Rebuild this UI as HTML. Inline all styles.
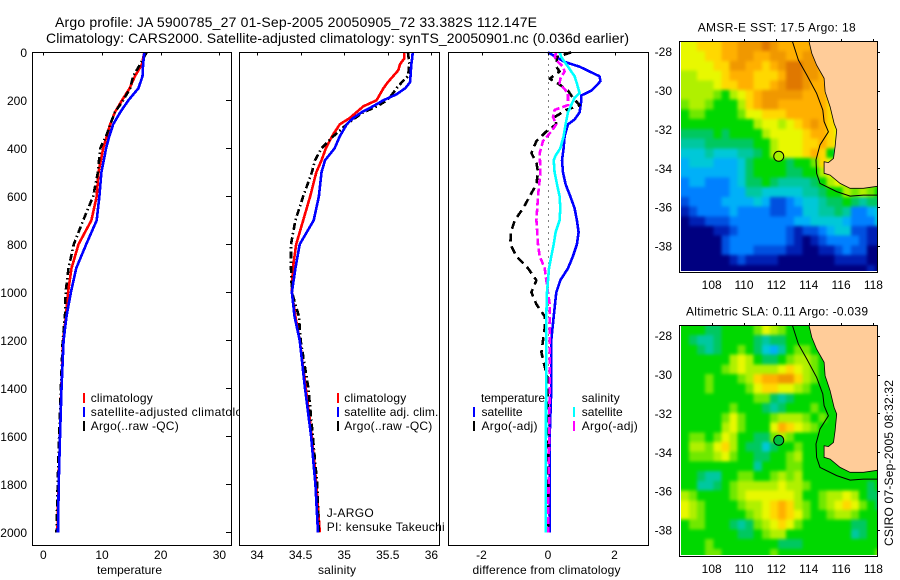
<!DOCTYPE html>
<html>
<head>
<meta charset="utf-8">
<title>Argo profile</title>
<style>
html,body{margin:0;padding:0;background:#fff;}
svg{display:block;font-family:"Liberation Sans",sans-serif;}
text{fill:#000;}
</style>
</head>
<body>
<svg id="figure" xmlns="http://www.w3.org/2000/svg" width="900" height="580" viewBox="0 0 900 580">
<rect x="0" y="0" width="900" height="580" fill="#fff"/>
<g id="panels"></g>
<g id="maps"></g>
<text x="55" y="27" font-size="14" textLength="482" lengthAdjust="spacing">Argo profile: JA 5900785_27 01-Sep-2005 20050905_72 33.382S 112.147E</text>
<text x="46" y="43" font-size="14" textLength="583" lengthAdjust="spacing">Climatology: CARS2000. Satellite-adjusted climatology: synTS_20050901.nc (0.036d earlier)</text>
<text transform="translate(893,546) rotate(-90)" font-size="12" textLength="166" lengthAdjust="spacing">CSIRO 07-Sep-2005 08:32:32</text>
</svg>
<script>
// ---- depth ticks and axis ticks
var depthTicks = [0,200,400,600,800,1000,1200,1400,1600,1800,2000];
var tempTicks = [0,10,20,30];
var salTicks = [34,34.5,35,35.5,36];
var salTickLabels = ['34','34.5','35','35.5','36'];
var diffTicks = [-2,0,2];
var lonTicks = [108,110,112,114,116,118];
var latTicks = [28,30,32,34,36,38];

// ---- temperature panel
var tempDepths = [0,50,100,150,200,250,300,350,400,500,600,700,800,900,1000,1100,1200,1400,1600,1800,2000];
var tempClim = [17.2,16.8,15.6,14.7,13.4,12.2,11.4,10.8,10.2,9.4,9.1,8.2,6.0,4.8,4.2,3.85,3.4,3.07,2.84,2.6,2.4];
var tempSat = [17.2,17.0,16.9,16.2,14.5,13.1,11.9,11.25,10.7,9.9,9.55,9.1,7.3,5.6,4.7,3.95,3.45,3.1,2.85,2.62,2.5];
var tempArgo = [17.6,16.5,15.3,14.8,13.6,12.2,11.4,10.7,9.7,9.3,8.5,6.8,5.2,4.3,3.8,3.7,3.3,3.0,2.7,2.45,2.25];

// ---- salinity panel
var salDepths = [0,25,50,75,100,125,150,175,200,225,250,275,300,350,400,450,500,600,700,800,900,1000,1100,1200,1400,1600,1800,2000];
var salClim = [35.69,35.69,35.64,35.62,35.56,35.5,35.45,35.41,35.37,35.22,35.14,35.06,34.95,34.86,34.79,34.74,34.68,34.61,34.53,34.45,34.41,34.4,34.44,34.49,34.56,34.63,34.68,34.72];
var salSat = [35.785,35.78,35.77,35.765,35.76,35.755,35.7,35.6,35.45,35.33,35.2,35.1,35.03,34.95,34.89,34.78,34.74,34.71,34.65,34.49,34.44,34.4,34.43,34.49,34.55,34.62,34.67,34.7];
var salArgo = [35.73,35.74,35.745,35.74,35.73,35.66,35.6,35.55,35.49,35.38,35.22,35.12,35.03,34.875,34.74,34.665,34.63,34.53,34.44,34.39,34.39,34.4,34.48,34.5,34.59,34.64,34.69,34.71];

// ---- difference panel
var diffTempSatDepths = [0,20,40,60,80,100,120,140,160,180,200,250,280,300,350,400,450,500,550,600,650,700,750,800,850,900,950,1000,1100,1200,1400,1600,2000];
var diffTempSat = [0,0.25,0.5,0.95,1.25,1.55,1.58,1.45,1.3,1.0,1.0,0.95,0.8,0.6,0.5,0.47,0.42,0.45,0.53,0.67,0.8,0.87,0.92,0.87,0.75,0.6,0.37,0.25,0.17,0.1,0.1,0.05,0.05];
var diffSalSatDepths = [0,20,40,60,80,100,130,170,190,210,250,300,350,400,430,450,500,550,600,650,700,750,800,850,900,1000,1100,2000];
var diffSalSat = [0.35,0.4,0.5,0.6,0.7,0.8,0.87,0.95,0.8,0.73,0.6,0.53,0.47,0.37,0.23,0.17,0.2,0.27,0.35,0.37,0.35,0.23,0.17,0.1,0.03,-0.03,-0.05,-0.07];
var diffTempArgoDepths = [0,20,40,60,80,110,130,160,190,220,240,270,300,330,370,420,460,500,550,600,650,700,750,800,850,900,950,1000,1050,1100,1150,1250,1350,1500,2000];
var diffTempArgo = [0.7,0.25,0.27,0.25,0.35,0.05,0.3,0.6,0.75,0.95,0.55,0.2,0.25,-0.05,-0.35,-0.5,-0.35,-0.3,-0.35,-0.55,-0.75,-1.0,-1.12,-1.13,-0.95,-0.6,-0.35,-0.5,-0.35,-0.1,-0.1,-0.2,-0.03,0,0];
var diffSalArgoDepths = [0,20,40,60,80,110,130,170,190,220,240,270,300,330,370,420,500,600,700,800,850,900,1000,1050,1200,1400,2000];
var diffSalArgo = [0.25,0.2,0.3,0.45,0.5,0.37,0.35,0.6,0.6,0.6,0.2,0.15,0.25,0.1,-0.15,-0.25,-0.23,-0.3,-0.35,-0.3,-0.25,-0.1,0,0.05,0.05,0.05,0];

// ---- map data (0.5 degree colour-level grids)
var sstRows = [
"bbcccddeeefeddddedddddddd","bbbccddeeddeeddeedddddddd","bbbbcceeddcdeffeedddddddd","aabbbcdddcccdffeeddcccccc",
"aaaabccddccdeffedddcccccc","aaaa98abcdeeeeedddcbbbbbb","9aa9888acdeeddddddcbbbbbb","89988889bbcccdddddcaaaaaa",
"888888888abbabcdedcbaaaaa","7777878888abbbbcddcbaaaaa","66677777788abbbccdcb99999","55565556678abbbcdc8655555",
"45554445788887889cb666666","44444445788887788aba99999","344333457787666678aba9999","33333344665555566788a9a98",
"2333344445422345567787677","1233334333322335566763345","0112223333333344555543335","0000112333333212234552211",
"0000023333333210123333211","0000023332222110011232200","0000001211110000000111100","0000000000000000000000010"
];
var slaRows = [
"8887788889ba9888888888888","8766788887677888888888888","8876788987546899888888888","888888aba87789aa988888888",
"888889abaaaabcba988888888","88898889acddeeca988888888","888988889bccbba9888888888","8888888889976788888888888",
"8888889888767888988888888","888889b98889aaa9898888888","88888ab9888bdcba988888888","89989ba88779a988888888888",
"8aa9bca877578898888888888","8999ab98877889a8888888888","8888888886888998888888888","887668899889a9a8888888888",
"8866789aaaaabaa9888888878","a988889abbbbbba889aaba877","ba988889aabcdca989abcb987","ba9888889abcdcb9889aa9888",
"8998887679abcb98888887788","88888887789aa888888886788","8889888888887778888888888","8889988888898888888888889"
];
var levelColors = ['#000080','#0020b4','#0050e0','#0080ff','#00b0f8','#00c8d8','#00c8a0','#00c860','#00d800','#70e800','#b0f000','#e8f800','#ffd800','#ffb000','#f09800','#e07800'];
var coastLon = [114.02,114.19,114.49,114.95,115.01,115.32,115.57,115.73,115.63,115.53,115.22,114.95,114.95,115.32,115.94,116.56,117.38,118.24];
var coastLat = [27.47,28.09,28.69,29.37,30.06,30.83,31.69,32.03,32.89,33.49,33.71,33.66,34.26,34.35,34.78,35.03,35.03,34.93];
var isobathLon = [112.99,113.36,113.88,114.49,114.87,114.95,115.22,114.7,114.45,114.49,114.7,115.73,116.56,117.38,118.24];
var isobathLat = [27.47,28.43,29.2,30.14,31.0,31.6,32.12,32.8,33.57,34.26,34.78,35.2,35.43,35.38,35.38];
var argoLon = 112.147;
var argoLat = 33.382;

// ---- axis functions
function yDepth(d){ return 52.3 + d * 0.24; }
function xTemp(v){ return 43.3 + v * 5.87; }
function xSal(v){ return 257 + (v - 34) * 87.2; }
function xDiff(v){ return 548 + v * 33.25; }
function xLon(v){ return 711.7 + (v - 108) * 16.17; }
function yLatTop(v){ return 51.7 + (v - 28) * 19.43; }
function yLatBot(v){ return 335.7 + (v - 28) * 19.43; }

var SVGNS = 'http://www.w3.org/2000/svg';
function make(tag, attrs, parent){
  var e = document.createElementNS(SVGNS, tag);
  for (var k in attrs) e.setAttribute(k, attrs[k]);
  parent.appendChild(e);
  return e;
}
function lineSeries(parent, xs, ds, xf, color, width, dash, name){
  var pts = [];
  for (var i = 0; i < xs.length; i++) pts.push(xf(xs[i]).toFixed(1) + ',' + yDepth(ds[i]).toFixed(1));
  var a = {points: pts.join(' '), fill: 'none', stroke: color, 'stroke-width': width, 'stroke-linejoin': 'round', 'shape-rendering': 'crispEdges'};
  if (dash) a['stroke-dasharray'] = dash;
  var p = make('polyline', a, parent);
  
  
}
function label(parent, x, y, s, size, anchor, len, name){
  var a = {x: x, y: y, 'font-size': size};
  if (anchor) a['text-anchor'] = anchor;
  if (len) { a.textLength = len; a.lengthAdjust = 'spacing'; }
  var t = make('text', a, parent);
  t.textContent = s;
  
  
  return t;
}
function legendBar(parent, x, y, color, name){
  var r = make('rect', {x: x, y: y - 5, width: 2, height: 10, fill: color}, parent);
  
  
}
function tick(parent, x1, y1, x2, y2, name){
  var l = make('line', {x1: x1, y1: y1, x2: x2, y2: y2, stroke: '#000', 'stroke-width': 1, 'shape-rendering': 'crispEdges'}, parent);
  
  
}
function panelBox(parent, x, y, w, h, name){
  var r = make('rect', {x: x, y: y, width: w, height: h, fill: '#fff', stroke: 'none'}, parent);
  
  
}
function panelFrame(parent, x, y, w, h, name){
  var r = make('rect', {x: x, y: y, width: w, height: h, fill: 'none', stroke: '#000', 'stroke-width': 1, 'shape-rendering': 'crispEdges'}, parent);
  
  
}

var panels = document.getElementById('panels');
var TOP = 52.5, BOT = 545.5, i;
var LW = 2.6;

// ---- temperature panel
var g1 = make('g', {}, panels);


panelBox(g1, 32.5, TOP, 199, BOT - TOP, 'temperature-panel');
lineSeries(g1, tempClim, tempDepths, xTemp, '#ff0000', LW, null, 'temperature-climatology-line');
lineSeries(g1, tempArgo, tempDepths, xTemp, '#000', LW, '7 3 1.5 3', 'temperature-argo-line');
lineSeries(g1, tempSat, tempDepths, xTemp, '#0000ff', LW, null, 'temperature-satellite-line');
panelFrame(g1, 32.5, TOP, 199, BOT - TOP, 'temperature-panel');
for (i = 0; i < depthTicks.length; i++) {
  tick(g1, 226, Math.round(yDepth(depthTicks[i])) + 0.5, 231, Math.round(yDepth(depthTicks[i])) + 0.5, 'depth-tick');
  label(g1, 27, yDepth(depthTicks[i]) + 4.5, String(depthTicks[i]), 12, 'end', null, 'depth-tick-label');
}
for (i = 0; i < tempTicks.length; i++) {
  tick(g1, Math.round(xTemp(tempTicks[i])) + 0.5, TOP, Math.round(xTemp(tempTicks[i])) + 0.5, TOP + 3, 'temperature-tick');
  label(g1, xTemp(tempTicks[i]), 559, String(tempTicks[i]), 12, 'middle', null, 'temperature-tick-label');
}
label(g1, 97, 574, 'temperature', 12, null, 65, 'temperature-axis-title');
legendBar(g1, 83, 398, '#ff0000', 'legend-climatology-swatch');
legendBar(g1, 83, 412, '#0000ff', 'legend-satellite-swatch');
legendBar(g1, 83, 426, '#000', 'legend-argo-swatch');
label(g1, 90.7, 402, 'climatology', 12, null, 62, 'legend-climatology');
label(g1, 90.7, 416, 'satellite-adjusted climatology', 12, null, 165, 'legend-satellite-adjusted');
label(g1, 90.7, 430, 'Argo(..raw -QC)', 12, null, 88, 'legend-argo');

// ---- salinity panel
var g2 = make('g', {}, panels);


panelBox(g2, 239, TOP, 201, BOT - TOP, 'salinity-panel');
lineSeries(g2, salClim, salDepths, xSal, '#ff0000', LW, null, 'salinity-climatology-line');
lineSeries(g2, salArgo, salDepths, xSal, '#000', LW, '7 3 1.5 3', 'salinity-argo-line');
lineSeries(g2, salSat, salDepths, xSal, '#0000ff', LW, null, 'salinity-satellite-line');
panelFrame(g2, 239.5, TOP, 200, BOT - TOP, 'salinity-panel');
for (i = 0; i < salTicks.length; i++) {
  tick(g2, Math.round(xSal(salTicks[i])) + 0.5, TOP, Math.round(xSal(salTicks[i])) + 0.5, TOP + 3, 'salinity-tick');
  label(g2, xSal(salTicks[i]), 559, salTickLabels[i], 12, 'middle', null, 'salinity-tick-label');
}
label(g2, 318, 574, 'salinity', 12, null, 38, 'salinity-axis-title');
legendBar(g2, 337, 398, '#ff0000', 'legend-climatology-swatch');
legendBar(g2, 337, 412, '#0000ff', 'legend-satellite-swatch');
legendBar(g2, 337, 426, '#000', 'legend-argo-swatch');
label(g2, 344.3, 402, 'climatology', 12, null, 62, 'legend-climatology');
label(g2, 344.3, 416, 'satellite adj. clim.', 12, null, 94, 'legend-satellite-adj');
label(g2, 344.3, 430, 'Argo(..raw -QC)', 12, null, 88, 'legend-argo');
label(g2, 326.7, 517, 'J-ARGO', 12, null, 47, 'program-label');
label(g2, 326.7, 531, 'PI: kensuke Takeuchi', 12, null, 118, 'pi-label');

// ---- difference panel
var g3 = make('g', {}, panels);


var zero = make('line', {x1: 548.5, y1: TOP, x2: 548.5, y2: yDepth(2000), stroke: '#000', 'stroke-width': 1, 'stroke-dasharray': '1 5', 'shape-rendering': 'crispEdges'}, g3);


lineSeries(g3, diffTempSat, diffTempSatDepths, xDiff, '#0000ff', LW, null, 'difference-temperature-satellite-line');
lineSeries(g3, diffTempArgo, diffTempArgoDepths, xDiff, '#000', LW, '8 5', 'difference-temperature-argo-line');
lineSeries(g3, diffSalArgo, diffSalArgoDepths, xDiff, '#ff00ff', LW, '7 3', 'difference-salinity-argo-line');
lineSeries(g3, diffSalSat, diffSalSatDepths, xDiff, '#00ffff', LW, null, 'difference-salinity-satellite-line');
panelFrame(g3, 448.5, TOP, 200, BOT - TOP, 'difference-panel');
for (i = 0; i < diffTicks.length; i++) {
  tick(g3, Math.round(xDiff(diffTicks[i])) + 0.5, TOP, Math.round(xDiff(diffTicks[i])) + 0.5, TOP + 3, 'difference-tick');
  label(g3, xDiff(diffTicks[i]), 559, String(diffTicks[i]), 12, 'middle', null, 'difference-tick-label');
}
label(g3, 472.5, 574, 'difference from climatology', 12, null, 148, 'difference-axis-title');
label(g3, 481, 402, 'temperature', 12, null, 64, 'legend-temperature-heading');
legendBar(g3, 473, 412, '#0000ff', 'legend-temperature-satellite-swatch');
legendBar(g3, 473, 426, '#000', 'legend-temperature-argo-swatch');
label(g3, 481.5, 416, 'satellite', 12, null, 41, 'legend-temperature-satellite');
label(g3, 481.5, 430, 'Argo(-adj)', 12, null, 56, 'legend-temperature-argo');
label(g3, 581.7, 402, 'salinity', 12, null, 38, 'legend-salinity-heading');
legendBar(g3, 573, 412, '#00ffff', 'legend-salinity-satellite-swatch');
legendBar(g3, 573, 426, '#ff00ff', 'legend-salinity-argo-swatch');
label(g3, 581.7, 416, 'satellite', 12, null, 41, 'legend-salinity-satellite');
label(g3, 581.7, 430, 'Argo(-adj)', 12, null, 56, 'legend-salinity-argo');

// ---- map panels
function drawMap(rows, yLat, frameTop, frameBot, clipId, titleText, titleX, titleLen, titleY, xLabelY, markerColor, prefix){
  var maps = document.getElementById('maps');
  var g = make('g', {}, maps);
  
  
  var left = 679.5, right = 877.5;
  var clip = make('clipPath', {id: clipId}, g);
  make('rect', {x: left + 1.5, y: frameTop, width: right - left - 1.5, height: frameBot - frameTop - 1.5}, clip);
  var blur = make('filter', {id: clipId + 'Blur', x: '-10%', y: '-10%', width: '120%', height: '120%', 'color-interpolation-filters': 'sRGB'}, g);
  make('feGaussianBlur', {stdDeviation: 1.7}, blur);
  var inner = make('g', {'clip-path': 'url(#' + clipId + ')'}, g);
  var cells = make('g', {filter: 'url(#' + clipId + 'Blur)'}, inner);
  var r, c;
  for (r = 0; r < rows.length; r++) {
    var row = rows[r];
    for (c = 0; c < row.length; c++) {
      var lvl = parseInt(row.charAt(c), 16);
      var lon0 = 106.1 + c * 0.5, lat0 = 27.47 + r * 0.5;
      var x0 = xLon(lon0), y0 = yLat(lat0);
      var w = xLon(lon0 + 0.5) - x0 + 0.5, h = yLat(lat0 + 0.5) - y0 + 0.5;
      // outermost cells run past the frame so the smoothing does not fade at the edges
      if (c === 0) { x0 -= 12; w += 12; }
      if (c === row.length - 1) { w += 12; }
      if (r === 0) { y0 -= 12; h += 12; }
      if (r === rows.length - 1) { h += 12; }
      var cell = make('rect', {x: x0.toFixed(1), y: y0.toFixed(1), width: w.toFixed(1), height: h.toFixed(1), fill: levelColors[lvl], 'shape-rendering': 'crispEdges'}, cells);
      
      
    }
  }
  var pts = [], k;
  for (k = 0; k < coastLon.length; k++) pts.push(xLon(coastLon[k]).toFixed(1) + ',' + yLat(coastLat[k]).toFixed(1));
  var landPts = pts.concat([right + ',' + yLat(coastLat[coastLat.length - 1]).toFixed(1), right + ',' + frameTop]);
  var land = make('polygon', {points: landPts.join(' '), fill: '#ffcc99', stroke: 'none'}, inner);
  
  
  var coast = make('polyline', {points: pts.join(' '), fill: 'none', stroke: '#000', 'stroke-width': 0.8}, inner);
  
  
  var iso = [];
  for (k = 0; k < isobathLon.length; k++) iso.push(xLon(isobathLon[k]).toFixed(1) + ',' + yLat(isobathLat[k]).toFixed(1));
  var isoLine = make('polyline', {points: iso.join(' '), fill: 'none', stroke: '#000', 'stroke-width': 1}, inner);
  
  
  var mk = make('circle', {cx: xLon(argoLon), cy: yLat(argoLat), r: 5, fill: markerColor, stroke: '#000', 'stroke-width': 1}, inner);
  
  
  panelFrame(g, left, frameTop, right - left, frameBot - frameTop, prefix + '-map');
  for (k = 0; k < lonTicks.length; k++) {
    var tx = Math.round(xLon(lonTicks[k])) + 0.5;
    tick(g, tx, frameTop - 2.5, tx, frameTop, 'longitude-tick');
    label(g, xLon(lonTicks[k]), xLabelY, String(lonTicks[k]), 12, 'middle', null, 'longitude-tick-label');
  }
  for (k = 0; k < latTicks.length; k++) {
    var ty = Math.round(yLat(latTicks[k])) + 0.5;
    tick(g, right, ty, right + 2.5, ty, 'latitude-tick');
    label(g, 672, yLat(latTicks[k]) + 4.5, '-' + latTicks[k], 12, 'end', null, 'latitude-tick-label');
  }
  label(g, titleX, titleY, titleText, 12, null, titleLen, prefix + '-map-title');
}
drawMap(sstRows, yLatTop, 41.5, 272.5, 'clipTop', 'AMSR-E SST: 17.5 Argo: 18', 697.7, 158, 31.5, 289, '#a8f000', 'sst');
drawMap(slaRows, yLatBot, 325.5, 556.5, 'clipBot', 'Altimetric SLA: 0.11 Argo: -0.039', 686, 182, 315.5, 573, '#00c040', 'sla');
</script>
</body>
</html>
